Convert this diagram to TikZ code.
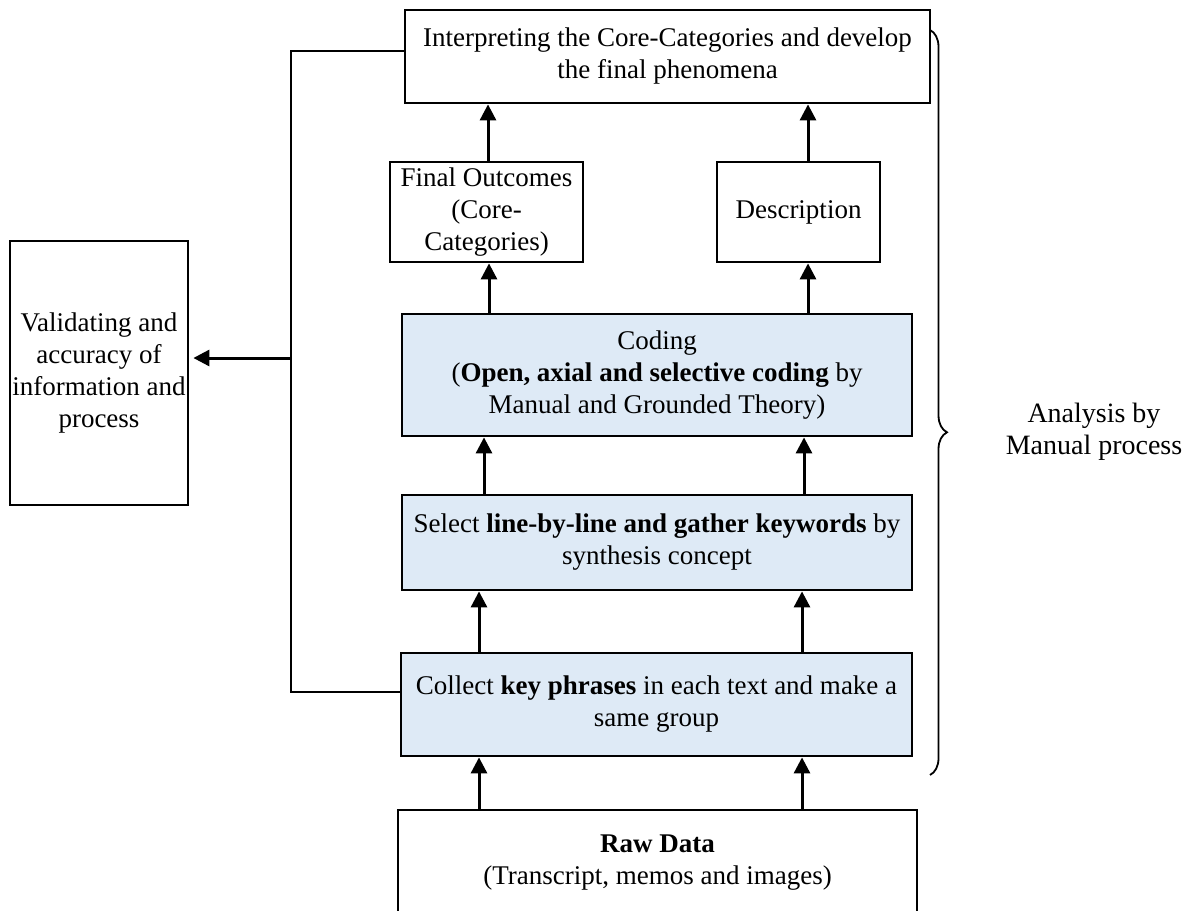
\documentclass[tikz,border=0pt]{standalone}
\usepackage{fontspec}
\setmainfont{Liberation Serif}
\usetikzlibrary{arrows.meta,decorations.pathreplacing}
\definecolor{paleblue}{RGB}{222,234,246}
\begin{document}
\begin{tikzpicture}[x=1pt,y=-1pt,
  box/.style={draw=black, line width=2.8pt, fill=white, align=center,
    inner sep=0pt, font=\fontsize{27}{32}\selectfont},
  bluebox/.style={box, fill=paleblue},
  arr/.style={line width=3pt, -{Triangle[length=16pt,width=16pt]}},
  wire/.style={line width=2.6pt},
]
\useasboundingbox (0,0) rectangle (1198,910);

% boxes
\node[box, minimum width=525pt, minimum height=93pt] (top) at (667.5,56.5)
  {Interpreting the Core-Categories and develop\\the final phenomena};
\node[box, minimum width=178pt, minimum height=264pt] (valid) at (99,373)
  {Validating and\\accuracy of\\information and\\process};
\node[box, minimum width=193pt, minimum height=100pt] (final) at (486.5,212)
  {Final Outcomes\\(Core-\\Categories)};
\node[box, minimum width=163pt, minimum height=100pt] (desc) at (798.5,212)
  {Description};
\node[bluebox, minimum width=510pt, minimum height=122pt] (coding) at (657,375)
  {Coding\\(\textbf{Open, axial and selective coding} by\\Manual and Grounded Theory)};
\node[bluebox, minimum width=510pt, minimum height=95pt] (select) at (657,542.5)
  {Select \textbf{line-by-line and gather keywords} by\\synthesis concept};
\node[bluebox, minimum width=511pt, minimum height=103pt] (collect) at (656.5,704.5)
  {Collect \textbf{key phrases} in each text and make a\\same group};
\node[box, minimum width=519pt, minimum height=106pt] (raw) at (657.5,863)
  {\textbf{Raw Data}\\(Transcript, memos and images)};

% upward flow
\draw[arr] ([xshift=-178.5pt]raw.north) -- ([xshift=-177.5pt]collect.south);
\draw[arr] ([xshift=144.5pt]raw.north) -- ([xshift=145.5pt]collect.south);
\draw[arr] ([xshift=-177.5pt]collect.north) -- ([xshift=-178pt]select.south);
\draw[arr] ([xshift=145.5pt]collect.north) -- ([xshift=145pt]select.south);
\draw[arr] ([xshift=-173pt]select.north) -- ([xshift=-173pt]coding.south);
\draw[arr] ([xshift=147pt]select.north) -- ([xshift=147pt]coding.south);
\draw[arr] ([xshift=-168pt]coding.north) -- ([xshift=2.5pt]final.south);
\draw[arr] ([xshift=151pt]coding.north) -- ([xshift=9.5pt]desc.south);
\draw[arr] ([xshift=1.5pt]final.north) -- ([xshift=-179.5pt]top.south);
\draw[arr] ([xshift=9.5pt]desc.north) -- ([xshift=140.5pt]top.south);

% feedback loop to validation
\coordinate (busT) at (291,51);
\coordinate (busB) at (291,692);
\coordinate (tap) at (291,358);
\draw[wire] ([yshift=5.5pt]top.west) -- (busT) -- (busB) -- ([yshift=12.5pt]collect.west);
\draw[arr] (tap) -- ([yshift=15pt,xshift=4pt]valid.east);

% brace and its label
\draw[line width=1.8pt, decorate,
  decoration={brace, amplitude=17pt, aspect=0.54}] (930,30) -- (930,775);
\node[font=\fontsize{28}{32}\selectfont, align=center] (label) at (1094,432)
  {Analysis by\\Manual process};
\end{tikzpicture}
\end{document}
